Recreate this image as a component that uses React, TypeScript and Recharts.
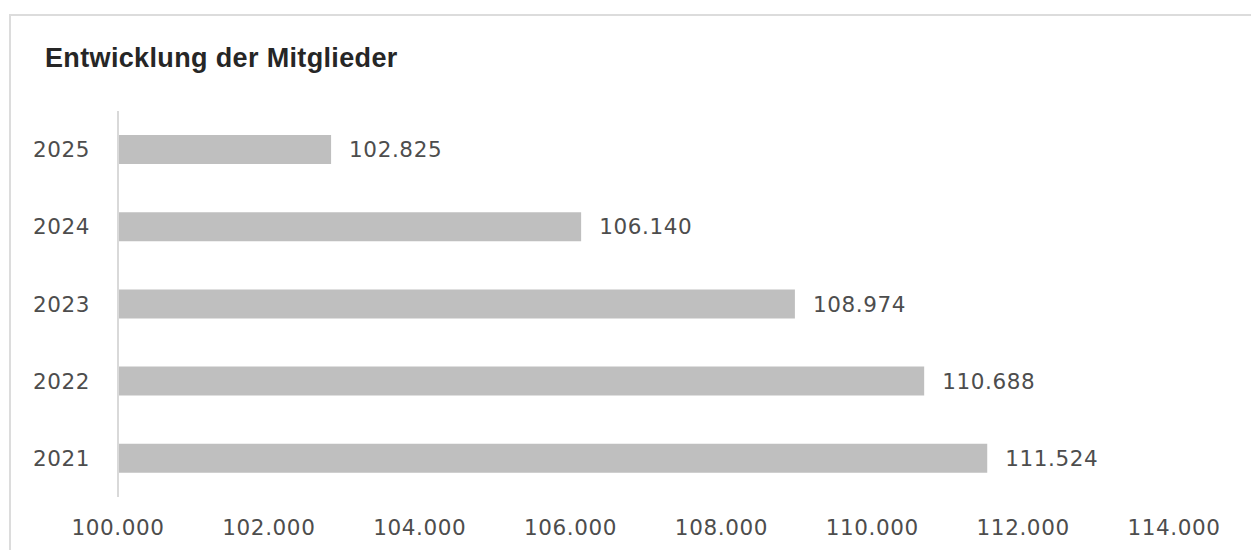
import React from 'react';
import { BarChart, Bar, XAxis, YAxis, LabelList } from 'recharts';

const years = ['2025', '2024', '2023', '2022', '2021'];
const members = [102825, 106140, 108974, 110688, 111524];
const xTicks = [100000, 102000, 104000, 106000, 108000, 110000, 112000, 114000];

const data = years.map((year, i) => ({ year, members: members[i] }));

const fmt = (v: number | string) => Number(v).toLocaleString('de-DE');

const labelFont = {
  fontFamily: '"DejaVu Sans", sans-serif',
  fontSize: 21.5,
  letterSpacing: 0.6,
  fill: '#4d4d4d',
};

const App: React.FC = () => {
  return (
    <div style={{ position: 'absolute', top: 0, left: 0, width: 1251, height: 550, background: '#fff', overflow: 'hidden' }}>
      <div
        style={{
          position: 'absolute',
          top: 14,
          left: 9,
          width: 1300,
          height: 600,
          borderTop: '2px solid #dcdcdc',
          borderLeft: '2px solid #dcdcdc',
        }}
      />
      <div
        style={{
          position: 'absolute',
          top: 43,
          left: 45,
          fontFamily: '"Liberation Sans", Arial, sans-serif',
          fontWeight: 'bold',
          fontSize: 27,
          letterSpacing: 0.35,
          color: '#262626',
          whiteSpace: 'nowrap',
        }}
      >
        Entwicklung der Mitglieder
      </div>
      <div style={{ position: 'absolute', top: 0, left: 0 }}>
        <BarChart
          width={1251}
          height={550}
          data={data}
          layout="vertical"
          margin={{ top: 111, right: 77, bottom: 0, left: 0 }}
        >
          <XAxis
            type="number"
            domain={[100000, 114000]}
            ticks={xTicks}
            tickFormatter={fmt}
            axisLine={false}
            tickLine={false}
            tickSize={0}
            tickMargin={23}
            height={53}
            tick={labelFont}
            interval={0}
          />
          <YAxis
            type="category"
            dataKey="year"
            width={118}
            axisLine={{ stroke: '#d9d9d9', strokeWidth: 2 }}
            tickLine={false}
            tickSize={0}
            tickMargin={28}
            tick={labelFont}
          />
          <Bar dataKey="members" fill="#bfbfbf" barSize={29} isAnimationActive={false}>
            <LabelList
              dataKey="members"
              position="right"
              offset={18}
              formatter={fmt}
              style={labelFont}
            />
          </Bar>
        </BarChart>
      </div>
    </div>
  );
};

export default App;
